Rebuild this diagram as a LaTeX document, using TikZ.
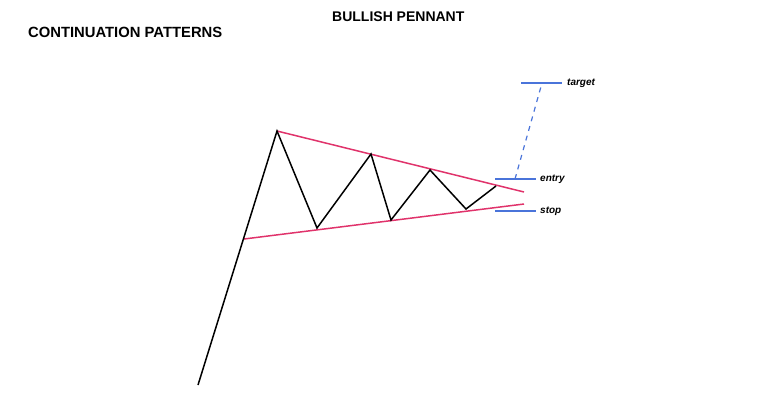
\documentclass[tikz,border=0pt]{standalone}
\usepackage{fontspec}
\setmainfont{Liberation Sans}
\definecolor{TrendPink}{HTML}{E0336B}
\definecolor{LevelBlue}{HTML}{4A74DA}
\usepackage{tikz}
\usetikzlibrary{positioning}

\begin{document}
\begin{tikzpicture}[
x=1pt,y=-1pt,
price/.style={line width=1.5pt,draw=black,line join=miter},
trend/.style={line width=1.5pt,draw=TrendPink},
level/.style={line width=1.4pt,draw=LevelBlue},
move/.style={line width=1.2pt,draw=LevelBlue,dashed,dash pattern=on 5pt off 5pt},
title/.style={font=\bfseries\fontsize{14}{16}\selectfont,inner sep=0pt},
tag/.style={font=\bfseries\itshape\fontsize{10}{12}\selectfont,inner sep=0pt,anchor=west}
]
\useasboundingbox (0,0) rectangle (760,400);

% titles
\node[title,anchor=west,font=\bfseries\fontsize{14.8}{17}\selectfont] (cont) at (28,32) {CONTINUATION PATTERNS};
\node[title,anchor=west] (pennant) at (332,17) {BULLISH PENNANT};

% swing points
\coordinate (p0) at (198,385);
\coordinate (p1) at (277,131);
\coordinate (p2) at (317,228);
\coordinate (p3) at (371,154);
\coordinate (p4) at (391,220);
\coordinate (p5) at (430,170);
\coordinate (p6) at (466,209);
\coordinate (p7) at (496,186);

% pennant bounds
\coordinate (up1) at (277,131);
\coordinate (up2) at (524,192);
\coordinate (lo1) at (244,239);
\coordinate (lo2) at (524,204);

\draw[trend] (up1) -- (up2);
\draw[trend] (lo1) -- (lo2);
\draw[price] (p0) -- (p1) -- (p2) -- (p3) -- (p4) -- (p5) -- (p6) -- (p7);

% levels
\coordinate (t1) at (521,83);
\coordinate (t2) at (562,83);
\coordinate (e1) at (495,179);
\coordinate (e2) at (536,179);
\coordinate (s1) at (495,211);
\coordinate (s2) at (536,211);
\draw[level] (t1) -- (t2);
\draw[level] (e1) -- (e2);
\draw[level] (s1) -- (s2);
\draw[move] (515,179) coordinate (m1) -- (542,83) coordinate (m2);

\node[tag,right=5pt of t2] (target) {target};
\node[tag,right=4pt of e2] (entry) {entry};
\node[tag,right=4pt of s2] (stop) {stop};
\end{tikzpicture}
\end{document}
